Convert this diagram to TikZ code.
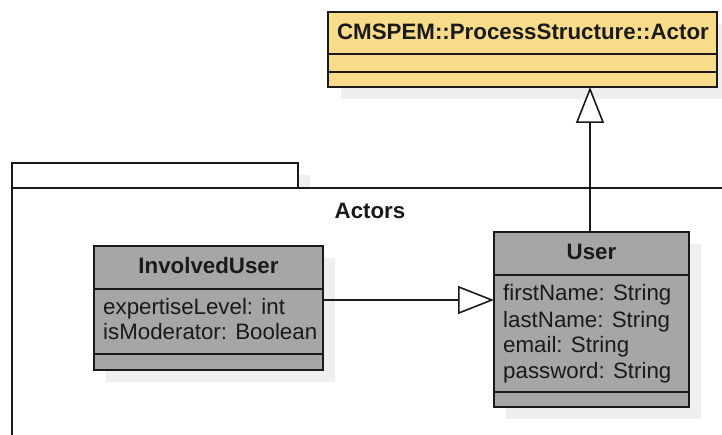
\documentclass[tikz,border=0pt]{standalone}
\usepackage{fontspec}
\setmainfont{Liberation Sans}
\usetikzlibrary{arrows.meta}
\definecolor{actorfill}{HTML}{F8DC8A}
\definecolor{classfill}{HTML}{A6A6A6}
\definecolor{shade}{HTML}{EFEFEF}
\definecolor{ink}{HTML}{1A1A1A}
\begin{document}
\begin{tikzpicture}[x=1pt,y=-1pt,
  line/.style={draw=ink, line width=1.6pt},
  box/.style={line, rectangle, inner sep=0pt, outer sep=0pt, anchor=north west},
  shadowbox/.style={fill=shade, draw=none, rectangle, inner sep=0pt, outer sep=0pt, anchor=north west},
  txt/.style={font=\fontsize{22.3}{25.5}\selectfont, inner sep=0pt, anchor=base west, text=ink},
  ttl/.style={font=\fontsize{22.3}{25.5}\selectfont\bfseries, inner sep=0pt, anchor=base, text=ink},
  gen/.style={line, -{Triangle[length=36pt,width=28pt,fill=white]}}]
\useasboundingbox (0,0) rectangle (722,435);
\clip (0,0) rectangle (722,435);
\fill[white] (0,0) rectangle (722,435);

% Actor class
\node[shadowbox, minimum width=389pt, minimum height=75pt] (actorsh) at (341,24) {};
\node[box, fill=actorfill, minimum width=389pt, minimum height=75pt] (actor) at (328,12) {};
\draw[line] ([yshift=-42pt]actor.north west) -- ([yshift=-42pt]actor.north east);
\draw[line] ([yshift=-60pt]actor.north west) -- ([yshift=-60pt]actor.north east);
\node[ttl] (actort) at (523,40) {CMSPEM::ProcessStructure::Actor};

% Package
\node[shadowbox, minimum width=286pt, minimum height=25pt] (tabsh) at (24,175) {};
\node[box, fill=white, minimum width=286pt, minimum height=25pt] (tab) at (12,163) {};
\node[box, fill=white, minimum width=760pt, minimum height=300pt] (pkg) at (12,188) {};
\node[ttl] (pkgt) at (370,219) {Actors};

% InvolvedUser
\node[shadowbox, minimum width=229pt, minimum height=124pt] (iush) at (106,258) {};
\node[box, fill=classfill, minimum width=229pt, minimum height=124pt] (iu) at (94,246) {};
\draw[line] ([yshift=-43pt]iu.north west) -- ([yshift=-43pt]iu.north east);
\draw[line] ([yshift=-108pt]iu.north west) -- ([yshift=-108pt]iu.north east);
\node[ttl] (iut) at (208.5,274) {InvolvedUser};
\node[txt] (iua1) at (103,314) {expertiseLevel: int};
\node[txt] (iua2) at (103,339) {isModerator: Boolean};

% User
\node[shadowbox, minimum width=195pt, minimum height=175pt] (usersh) at (506,244) {};
\node[box, fill=classfill, minimum width=195pt, minimum height=175pt] (user) at (494,232) {};
\draw[line] ([yshift=-43pt]user.north west) -- ([yshift=-43pt]user.north east);
\draw[line] ([yshift=-160pt]user.north west) -- ([yshift=-160pt]user.north east);
\node[ttl] (usert) at (591.5,260) {User};
\node[txt] (ua1) at (503,301) {firstName: String};
\node[txt] (ua2) at (503,327) {lastName: String};
\node[txt] (ua3) at (503,352) {email: String};
\node[txt] (ua4) at (503,378) {password: String};

% Generalizations
\coordinate (g1) at ([yshift=8pt]iu.east);
\draw[gen] (g1) -- (g1 -| user.west);
\coordinate (g2) at ([xshift=-1.5pt]user.north);
\draw[gen] (g2) -- (g2 |- actor.south);
\end{tikzpicture}
\end{document}
